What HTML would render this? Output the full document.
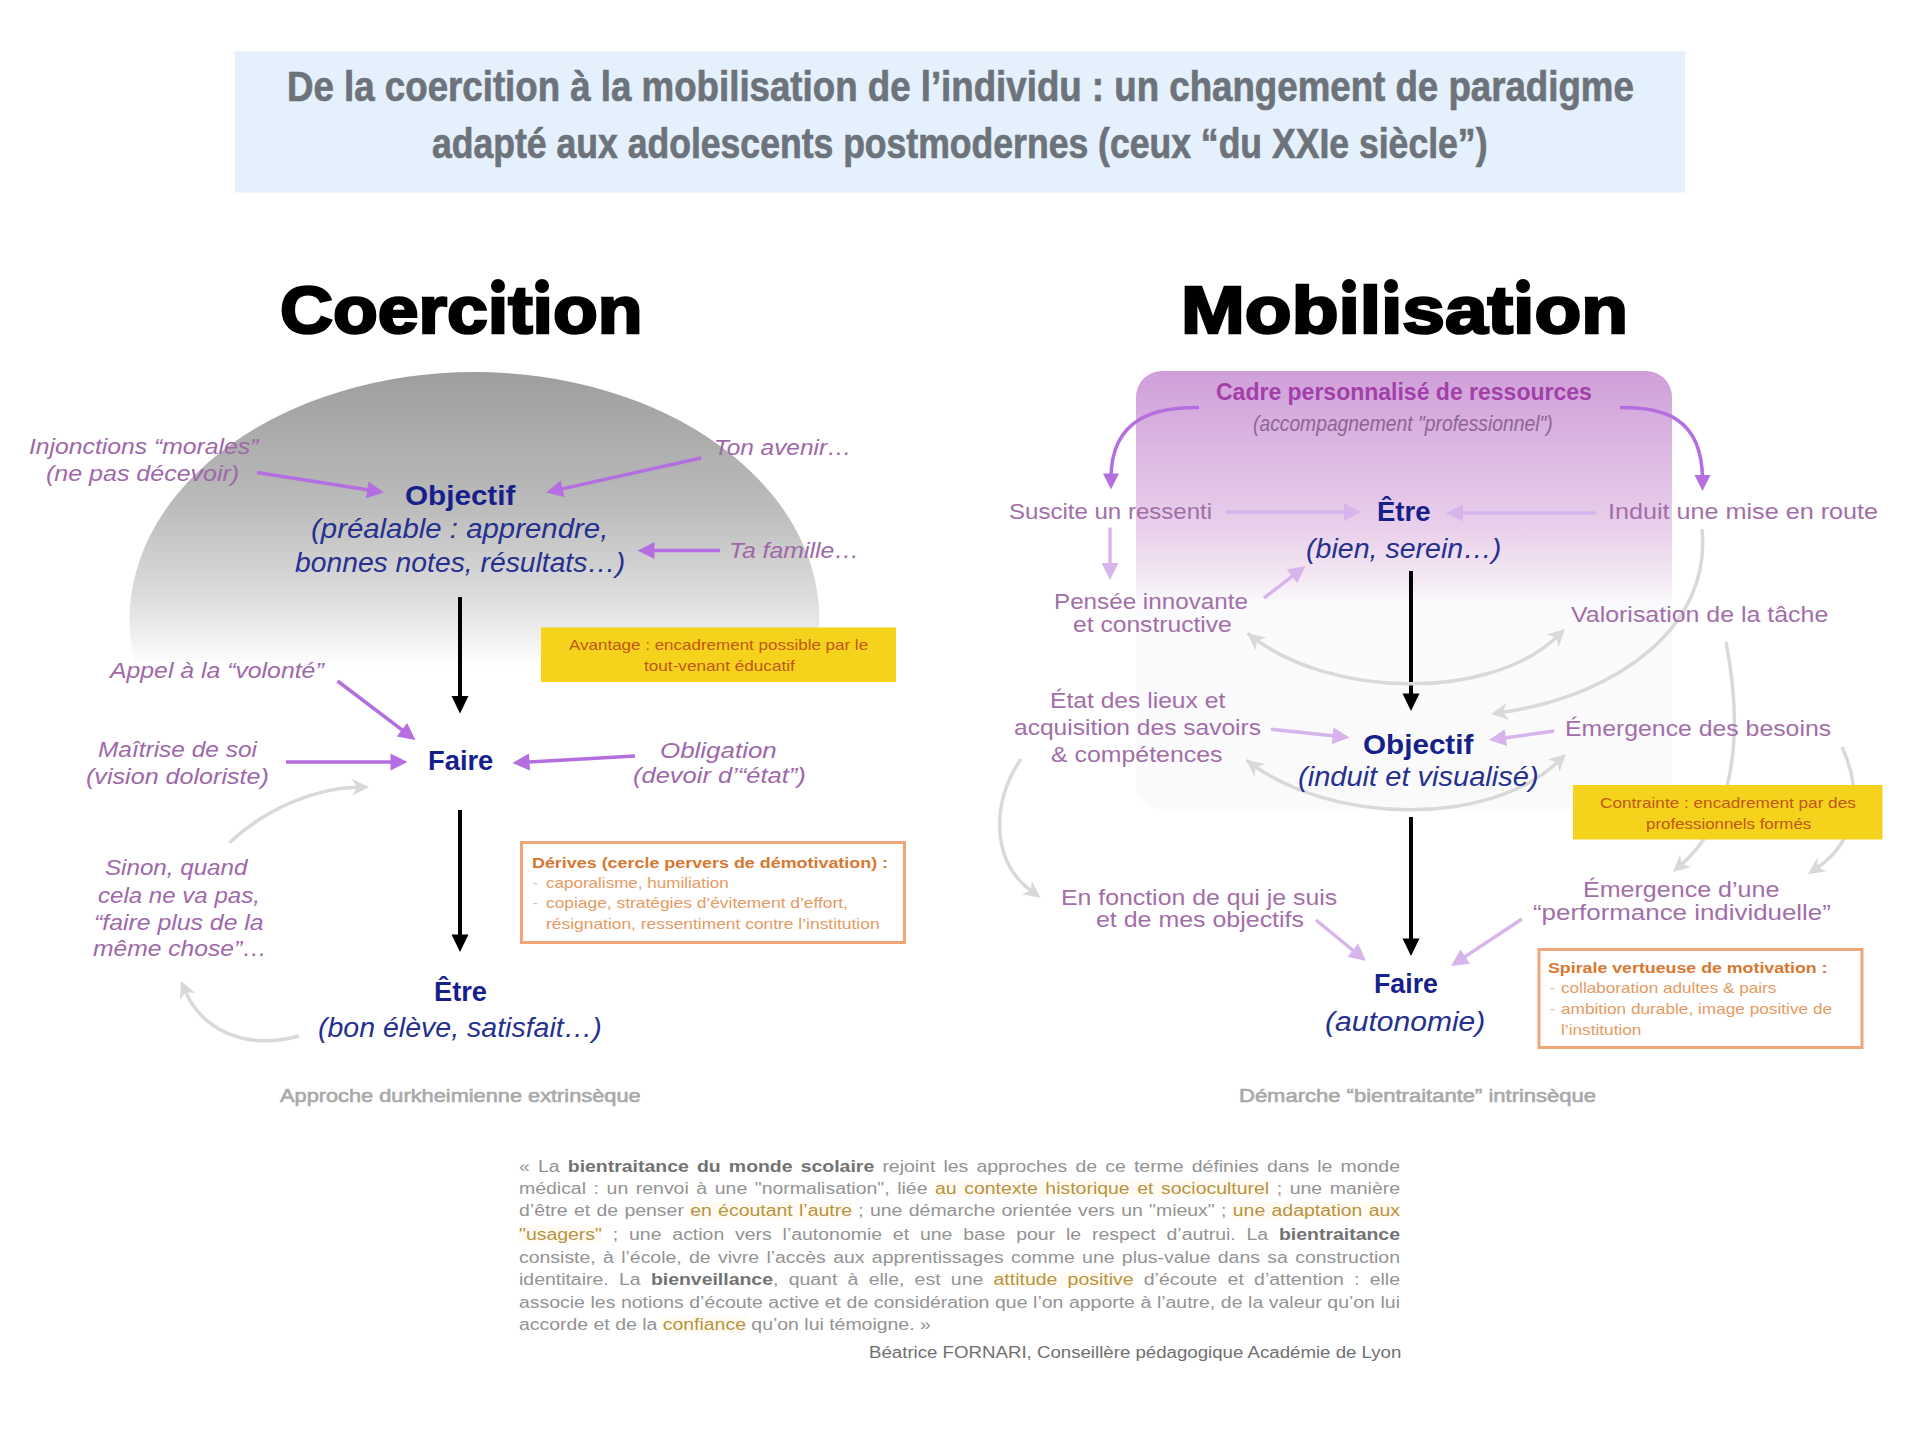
<!DOCTYPE html>
<html><head><meta charset="utf-8"><style>
html,body{margin:0;padding:0;background:#fff;}
body{width:1920px;height:1440px;position:relative;overflow:hidden;font-family:"Liberation Sans",sans-serif;}
.t{position:absolute;white-space:nowrap;transform-origin:0 0;}
svg.sh{position:absolute;left:0;top:0;}
.dot{position:absolute;background:#000;border-radius:50%;}
</style></head><body>
<svg class="sh" width="1920" height="1440"><defs>
<linearGradient id="gEll" x1="0" y1="372" x2="0" y2="668" gradientUnits="userSpaceOnUse">
 <stop offset="0" stop-color="#9e9e9e"/>
 <stop offset="0.45" stop-color="#bbbbbb"/>
 <stop offset="0.78" stop-color="#dfdfdf"/>
 <stop offset="1" stop-color="#ffffff"/>
</linearGradient>
<linearGradient id="gBox" x1="0" y1="371" x2="0" y2="809" gradientUnits="userSpaceOnUse">
 <stop offset="0" stop-color="#cf9fd9"/>
 <stop offset="0.18" stop-color="#dcb8e2"/>
 <stop offset="0.36" stop-color="#e9d0eb"/>
 <stop offset="0.48" stop-color="#f4eaf4"/>
 <stop offset="0.53" stop-color="#fbfafc"/>
 <stop offset="1" stop-color="#fafafb"/>
</linearGradient>
</defs>
<rect x="235.5" y="52" width="1449" height="140" fill="#e4f0fb" stroke="#e9eef6" stroke-width="1"/>
<ellipse cx="474.5" cy="620" rx="345" ry="248" fill="url(#gEll)"/>
<rect x="1136" y="371" width="536" height="438" rx="26" ry="26" fill="url(#gBox)"/>
<line x1="257" y1="472.5" x2="372.2" y2="490.6" stroke="#b46ee0" stroke-width="3.5"/>
<polygon points="384.0,492.5 365.9,498.3 368.5,481.5" fill="#b46ee0"/>
<line x1="701" y1="458" x2="557.6" y2="489.9" stroke="#b46ee0" stroke-width="3.5"/>
<polygon points="546.0,492.5 560.7,480.5 564.4,497.1" fill="#b46ee0"/>
<line x1="720" y1="550.5" x2="649.4" y2="550.5" stroke="#b46ee0" stroke-width="3.5"/>
<polygon points="637.5,550.5 654.5,542.0 654.5,559.0" fill="#b46ee0"/>
<line x1="337.5" y1="681" x2="406.0" y2="732.8" stroke="#b46ee0" stroke-width="3.5"/>
<polygon points="415.5,740.0 396.8,736.5 407.1,723.0" fill="#b46ee0"/>
<line x1="286" y1="762" x2="395.6" y2="762.0" stroke="#b46ee0" stroke-width="3.5"/>
<polygon points="407.5,762.0 390.5,770.5 390.5,753.5" fill="#b46ee0"/>
<line x1="635" y1="756" x2="524.4" y2="762.3" stroke="#b46ee0" stroke-width="3.5"/>
<polygon points="512.5,763.0 529.0,753.5 530.0,770.5" fill="#b46ee0"/>
<line x1="460" y1="597" x2="460.0" y2="701.2" stroke="#000" stroke-width="4"/>
<polygon points="460.0,713.5 451.5,696.0 468.5,696.0" fill="#000"/>
<line x1="460" y1="810" x2="460.0" y2="939.8" stroke="#000" stroke-width="4"/>
<polygon points="460.0,952.0 451.5,934.5 468.5,934.5" fill="#000"/>
<line x1="1411" y1="571" x2="1411.0" y2="698.8" stroke="#000" stroke-width="4"/>
<polygon points="1411.0,711.0 1402.5,693.5 1419.5,693.5" fill="#000"/>
<line x1="1411" y1="817" x2="1411.0" y2="943.8" stroke="#000" stroke-width="4"/>
<polygon points="1411.0,956.0 1402.5,938.5 1419.5,938.5" fill="#000"/>
<path d="M229.5,842.5 C270,805 320,788 357.1,787.2" fill="none" stroke="#d9d9d9" stroke-width="3.5"/>
<polygon points="369.0,787.0 352.2,795.8 357.1,787.2 351.8,778.8" fill="#d9d9d9"/>
<path d="M299,1036 C240,1052 200,1025 185.7,991.9" fill="none" stroke="#d9d9d9" stroke-width="3.5"/>
<polygon points="181.0,981.0 195.5,993.2 185.7,991.9 179.9,1000.0" fill="#d9d9d9"/>
<path d="M1199,407.5 C1160,407 1111,415 1111.0,478.3" fill="none" stroke="#b46ee0" stroke-width="3.5"/>
<polygon points="1111.0,489.5 1103.0,473.5 1119.0,473.5" fill="#b46ee0"/>
<path d="M1620,407.5 C1660,407 1702.5,415 1702.5,479.8" fill="none" stroke="#b46ee0" stroke-width="3.5"/>
<polygon points="1702.5,491.0 1694.5,475.0 1710.5,475.0" fill="#b46ee0"/>
<line x1="1226" y1="512" x2="1349.1" y2="512.0" stroke="#d7b4ec" stroke-width="3.5"/>
<polygon points="1361.0,512.0 1344.0,520.5 1344.0,503.5" fill="#d7b4ec"/>
<line x1="1596" y1="513" x2="1457.9" y2="513.0" stroke="#d7b4ec" stroke-width="3.5"/>
<polygon points="1446.0,513.0 1463.0,504.5 1463.0,521.5" fill="#d7b4ec"/>
<line x1="1110" y1="527.5" x2="1110.0" y2="568.1" stroke="#d7b4ec" stroke-width="3.5"/>
<polygon points="1110.0,580.0 1101.5,563.0 1118.5,563.0" fill="#d7b4ec"/>
<line x1="1264" y1="598" x2="1296.1" y2="573.3" stroke="#d7b4ec" stroke-width="3.5"/>
<polygon points="1305.5,566.0 1297.2,583.1 1286.8,569.6" fill="#d7b4ec"/>
<line x1="1271" y1="729.3" x2="1337.7" y2="736.3" stroke="#d7b4ec" stroke-width="3.5"/>
<polygon points="1349.5,737.6 1331.7,744.3 1333.5,727.4" fill="#d7b4ec"/>
<line x1="1554" y1="731" x2="1500.8" y2="738.4" stroke="#d7b4ec" stroke-width="3.5"/>
<polygon points="1489.0,740.0 1504.7,729.2 1507.0,746.1" fill="#d7b4ec"/>
<line x1="1316" y1="920" x2="1356.8" y2="953.5" stroke="#d7b4ec" stroke-width="3.5"/>
<polygon points="1366.0,961.0 1347.5,956.8 1358.2,943.6" fill="#d7b4ec"/>
<line x1="1522" y1="919" x2="1460.9" y2="959.4" stroke="#d7b4ec" stroke-width="3.5"/>
<polygon points="1451.0,966.0 1460.5,949.5 1469.9,963.7" fill="#d7b4ec"/>
<path d="M1247.6,633.4 C1330,700 1490,700 1556.4,637.2" fill="none" stroke="#d9d9d9" stroke-width="3.5"/>
<polygon points="1565.0,629.0 1558.5,646.9 1556.4,637.2 1546.8,634.5" fill="#d9d9d9"/>
<polygon points="1247.6,633.4 1266.2,637.5 1256.9,640.9 1255.5,650.7" fill="#d9d9d9"/>
<path d="M1246.4,760 C1330,826 1490,826 1557.4,762.2" fill="none" stroke="#d9d9d9" stroke-width="3.5"/>
<polygon points="1566.0,754.0 1559.5,771.9 1557.4,762.2 1547.8,759.5" fill="#d9d9d9"/>
<polygon points="1246.4,760.0 1265.0,763.9 1255.7,767.4 1254.5,777.2" fill="#d9d9d9"/>
<path d="M1702,529 C1712,625 1620,695 1502.8,712.3" fill="none" stroke="#d9d9d9" stroke-width="3.5"/>
<polygon points="1491.0,714.0 1506.6,703.1 1502.8,712.3 1509.1,719.9" fill="#d9d9d9"/>
<path d="M1021,759 C992,800 990,860 1030.9,890.6" fill="none" stroke="#d9d9d9" stroke-width="3.5"/>
<polygon points="1040.4,897.7 1021.7,894.3 1030.9,890.6 1031.9,880.7" fill="#d9d9d9"/>
<path d="M1726,642 C1745,740 1732,820 1681.9,864.1" fill="none" stroke="#d9d9d9" stroke-width="3.5"/>
<polygon points="1673.0,872.0 1680.1,854.4 1681.9,864.1 1691.4,867.1" fill="#d9d9d9"/>
<path d="M1842,747 C1862,790 1858,840 1817.8,867.3" fill="none" stroke="#d9d9d9" stroke-width="3.5"/>
<polygon points="1808.0,874.0 1817.3,857.4 1817.8,867.3 1826.8,871.5" fill="#d9d9d9"/>
<rect x="541" y="627.5" width="355" height="54.5" fill="#f5d21c"/>
<rect x="1573" y="785" width="309.5" height="54.5" fill="#f5d21c"/>
<rect x="521.5" y="842.5" width="383" height="100" fill="#fff" stroke="#f0a677" stroke-width="3"/>
<rect x="1539" y="949.5" width="323" height="98" fill="#fff" stroke="#f0a677" stroke-width="3"/></svg>
<div class="t" style='left:287.25px;top:63.98px;font:normal bold 42px "Liberation Sans";line-height:1.117;color:#6d737b;transform:scaleX(0.8731);-webkit-text-stroke:0.7px #6d737b;'>De la coercition à la mobilisation de l’individu : un changement de paradigme</div>
<div class="t" style='left:432.15px;top:121.48px;font:normal bold 42px "Liberation Sans";line-height:1.117;color:#6d737b;transform:scaleX(0.8468);-webkit-text-stroke:0.7px #6d737b;'>adapté aux adolescents postmodernes (ceux “du XXIe siècle”)</div>
<div class="t" style='left:279.81px;top:272.84px;font:normal bold 67px "Liberation Sans";line-height:1.117;color:#000;transform:scaleX(1.0941);-webkit-text-stroke:2.6px #000;'>Coercıtıon</div>
<div class="t" style='left:1181.42px;top:272.84px;font:normal bold 67px "Liberation Sans";line-height:1.117;color:#000;transform:scaleX(1.1439);-webkit-text-stroke:2.6px #000;'>Mobılısatıon</div>
<div class="t" style='left:29.00px;top:434.13px;font:italic normal 22.5px "Liberation Sans";line-height:1.117;color:#9e68a9;transform:scaleX(1.0982);'>Injonctions “morales”</div>
<div class="t" style='left:46.39px;top:461.13px;font:italic normal 22.5px "Liberation Sans";line-height:1.117;color:#9e68a9;transform:scaleX(1.1111);'>(ne pas décevoir)</div>
<div class="t" style='left:404.94px;top:480.15px;font:normal bold 28px "Liberation Sans";line-height:1.117;color:#15208a;transform:scaleX(1.0586);'>Objectif</div>
<div class="t" style='left:311.41px;top:513.56px;font:italic normal 27px "Liberation Sans";line-height:1.117;color:#26318f;transform:scaleX(1.0883);'>(préalable : apprendre,</div>
<div class="t" style='left:295.00px;top:547.56px;font:italic normal 27px "Liberation Sans";line-height:1.117;color:#26318f;transform:scaleX(1.0472);'>bonnes notes, résultats…)</div>
<div class="t" style='left:713.83px;top:435.13px;font:italic normal 22.5px "Liberation Sans";line-height:1.117;color:#9e68a9;transform:scaleX(1.0846);'>Ton avenir…</div>
<div class="t" style='left:728.79px;top:537.63px;font:italic normal 22.5px "Liberation Sans";line-height:1.117;color:#9e68a9;transform:scaleX(1.1026);'>Ta famille…</div>
<div class="t" style='left:109.70px;top:657.63px;font:italic normal 22.5px "Liberation Sans";line-height:1.117;color:#9e68a9;transform:scaleX(1.1020);'>Appel à la “volonté”</div>
<div class="t" style='left:97.50px;top:737.13px;font:italic normal 22.5px "Liberation Sans";line-height:1.117;color:#9e68a9;transform:scaleX(1.0862);'>Maîtrise de soi</div>
<div class="t" style='left:86.38px;top:764.13px;font:italic normal 22.5px "Liberation Sans";line-height:1.117;color:#9e68a9;transform:scaleX(1.1167);'>(vision doloriste)</div>
<div class="t" style='left:427.77px;top:745.15px;font:normal bold 28px "Liberation Sans";line-height:1.117;color:#15208a;transform:scaleX(0.9755);'>Faire</div>
<div class="t" style='left:659.85px;top:737.63px;font:italic normal 22.5px "Liberation Sans";line-height:1.117;color:#9e68a9;transform:scaleX(1.1523);'>Obligation</div>
<div class="t" style='left:632.87px;top:762.63px;font:italic normal 22.5px "Liberation Sans";line-height:1.117;color:#9e68a9;transform:scaleX(1.1321);'>(devoir d’“état”)</div>
<div class="t" style='left:105.00px;top:855.13px;font:italic normal 22.5px "Liberation Sans";line-height:1.117;color:#9e68a9;transform:scaleX(1.0738);'>Sinon, quand</div>
<div class="t" style='left:97.50px;top:882.63px;font:italic normal 22.5px "Liberation Sans";line-height:1.117;color:#9e68a9;transform:scaleX(1.0698);'>cela ne va pas,</div>
<div class="t" style='left:93.90px;top:909.83px;font:italic normal 22.5px "Liberation Sans";line-height:1.117;color:#9e68a9;transform:scaleX(1.1030);'>“faire plus de la</div>
<div class="t" style='left:93.00px;top:935.73px;font:italic normal 22.5px "Liberation Sans";line-height:1.117;color:#9e68a9;transform:scaleX(1.0947);'>même chose”…</div>
<div class="t" style='left:434.03px;top:976.15px;font:normal bold 28px "Liberation Sans";line-height:1.117;color:#15208a;transform:scaleX(0.9736);'>Être</div>
<div class="t" style='left:317.94px;top:1013.06px;font:italic normal 27px "Liberation Sans";line-height:1.117;color:#26318f;transform:scaleX(1.0562);'>(bon élève, satisfait…)</div>
<div class="t" style='left:280.00px;top:1085.90px;font:normal normal 18px "Liberation Sans";line-height:1.117;color:#a9a9a9;transform:scaleX(1.2094);-webkit-text-stroke:0.6px #a9a9a9;'>Approche durkheimienne extrinsèque</div>
<div class="t" style='left:569.00px;top:637.37px;font:normal normal 14.5px "Liberation Sans";line-height:1.117;color:#c05814;transform:scaleX(1.1717);'>Avantage : encadrement possible par le</div>
<div class="t" style='left:644.00px;top:657.87px;font:normal normal 14.5px "Liberation Sans";line-height:1.117;color:#c05814;transform:scaleX(1.1844);'>tout-venant éducatif</div>
<div class="t" style='left:532.00px;top:855.37px;font:normal bold 14.5px "Liberation Sans";line-height:1.117;color:#d8772e;transform:scaleX(1.2340);'>Dérives (cercle pervers de démotivation) :</div>
<div class="t" style='left:533.00px;top:875.37px;font:normal normal 14.5px "Liberation Sans";line-height:1.117;color:#e8b898;transform:scaleX(1.0000);'>-</div>
<div class="t" style='left:546.00px;top:875.37px;font:normal normal 14.5px "Liberation Sans";line-height:1.117;color:#e59a62;transform:scaleX(1.1744);'>caporalisme, humiliation</div>
<div class="t" style='left:533.00px;top:895.07px;font:normal normal 14.5px "Liberation Sans";line-height:1.117;color:#e8b898;transform:scaleX(1.0000);'>-</div>
<div class="t" style='left:546.00px;top:895.07px;font:normal normal 14.5px "Liberation Sans";line-height:1.117;color:#e59a62;transform:scaleX(1.1981);'>copiage, stratégies d’évitement d’effort,</div>
<div class="t" style='left:546.00px;top:915.77px;font:normal normal 14.5px "Liberation Sans";line-height:1.117;color:#e59a62;transform:scaleX(1.1997);'>résignation, ressentiment contre l’institution</div>
<div class="t" style='left:1216.00px;top:380.18px;font:normal bold 23px "Liberation Sans";line-height:1.117;color:#a23fa8;transform:scaleX(0.9999);'>Cadre personnalisé de ressources</div>
<div class="t" style='left:1253.12px;top:411.58px;font:italic normal 22px "Liberation Sans";line-height:1.117;color:#8e6494;transform:scaleX(0.8759);'>(accompagnement &quot;professionnel&quot;)</div>
<div class="t" style='left:1008.91px;top:499.58px;font:normal normal 22px "Liberation Sans";line-height:1.117;color:#a26ea8;transform:scaleX(1.0925);'>Suscite un ressenti</div>
<div class="t" style='left:1377.02px;top:495.65px;font:normal bold 28px "Liberation Sans";line-height:1.117;color:#15208a;transform:scaleX(0.9831);'>Être</div>
<div class="t" style='left:1607.71px;top:499.58px;font:normal normal 22px "Liberation Sans";line-height:1.117;color:#a26ea8;transform:scaleX(1.1441);'>Induit une mise en route</div>
<div class="t" style='left:1305.74px;top:534.06px;font:italic normal 27px "Liberation Sans";line-height:1.117;color:#26318f;transform:scaleX(1.0582);'>(bien, serein…)</div>
<div class="t" style='left:1053.90px;top:589.58px;font:normal normal 22px "Liberation Sans";line-height:1.117;color:#a26ea8;transform:scaleX(1.1006);'>Pensée innovante</div>
<div class="t" style='left:1072.50px;top:613.08px;font:normal normal 22px "Liberation Sans";line-height:1.117;color:#a26ea8;transform:scaleX(1.1193);'>et constructive</div>
<div class="t" style='left:1571.00px;top:602.58px;font:normal normal 22px "Liberation Sans";line-height:1.117;color:#a26ea8;transform:scaleX(1.1330);'>Valorisation de la tâche</div>
<div class="t" style='left:1049.88px;top:688.58px;font:normal normal 22px "Liberation Sans";line-height:1.117;color:#a26ea8;transform:scaleX(1.1195);'>État des lieux et</div>
<div class="t" style='left:1014.00px;top:716.08px;font:normal normal 22px "Liberation Sans";line-height:1.117;color:#a26ea8;transform:scaleX(1.1160);'>acquisition des savoirs</div>
<div class="t" style='left:1051.00px;top:742.58px;font:normal normal 22px "Liberation Sans";line-height:1.117;color:#a26ea8;transform:scaleX(1.1310);'>&amp; compétences</div>
<div class="t" style='left:1362.94px;top:729.15px;font:normal bold 28px "Liberation Sans";line-height:1.117;color:#15208a;transform:scaleX(1.0586);'>Objectif</div>
<div class="t" style='left:1297.92px;top:762.06px;font:italic normal 27px "Liberation Sans";line-height:1.117;color:#26318f;transform:scaleX(1.0763);'>(induit et visualisé)</div>
<div class="t" style='left:1564.87px;top:716.58px;font:normal normal 22px "Liberation Sans";line-height:1.117;color:#a26ea8;transform:scaleX(1.1275);'>Émergence des besoins</div>
<div class="t" style='left:1599.50px;top:795.37px;font:normal normal 14.5px "Liberation Sans";line-height:1.117;color:#c05814;transform:scaleX(1.1842);'>Contrainte : encadrement par des</div>
<div class="t" style='left:1646.00px;top:816.37px;font:normal normal 14.5px "Liberation Sans";line-height:1.117;color:#c05814;transform:scaleX(1.1653);'>professionnels formés</div>
<div class="t" style='left:1061.37px;top:886.08px;font:normal normal 22px "Liberation Sans";line-height:1.117;color:#a26ea8;transform:scaleX(1.1289);'>En fonction de qui je suis</div>
<div class="t" style='left:1096.00px;top:908.08px;font:normal normal 22px "Liberation Sans";line-height:1.117;color:#a26ea8;transform:scaleX(1.1340);'>et de mes objectifs</div>
<div class="t" style='left:1582.86px;top:878.08px;font:normal normal 22px "Liberation Sans";line-height:1.117;color:#a26ea8;transform:scaleX(1.1390);'>Émergence d’une</div>
<div class="t" style='left:1532.50px;top:900.58px;font:normal normal 22px "Liberation Sans";line-height:1.117;color:#a26ea8;transform:scaleX(1.1769);'>“performance individuelle”</div>
<div class="t" style='left:1374.04px;top:968.15px;font:normal bold 28px "Liberation Sans";line-height:1.117;color:#15208a;transform:scaleX(0.9564);'>Faire</div>
<div class="t" style='left:1325.49px;top:1006.66px;font:italic normal 27px "Liberation Sans";line-height:1.117;color:#26318f;transform:scaleX(1.1128);'>(autonomie)</div>
<div class="t" style='left:1547.50px;top:959.87px;font:normal bold 14.5px "Liberation Sans";line-height:1.117;color:#d8772e;transform:scaleX(1.2258);'>Spirale vertueuse de motivation :</div>
<div class="t" style='left:1550.00px;top:980.37px;font:normal normal 14.5px "Liberation Sans";line-height:1.117;color:#e8b898;transform:scaleX(1.0000);'>-</div>
<div class="t" style='left:1561.00px;top:980.37px;font:normal normal 14.5px "Liberation Sans";line-height:1.117;color:#e59a62;transform:scaleX(1.1819);'>collaboration adultes &amp; pairs</div>
<div class="t" style='left:1550.00px;top:1001.12px;font:normal normal 14.5px "Liberation Sans";line-height:1.117;color:#e8b898;transform:scaleX(1.0000);'>-</div>
<div class="t" style='left:1561.00px;top:1001.12px;font:normal normal 14.5px "Liberation Sans";line-height:1.117;color:#e59a62;transform:scaleX(1.1884);'>ambition durable, image positive de</div>
<div class="t" style='left:1561.00px;top:1022.07px;font:normal normal 14.5px "Liberation Sans";line-height:1.117;color:#e59a62;transform:scaleX(1.1884);'>l’institution</div>
<div class="t" style='left:1239.38px;top:1085.90px;font:normal normal 18px "Liberation Sans";line-height:1.117;color:#a9a9a9;transform:scaleX(1.2221);-webkit-text-stroke:0.6px #a9a9a9;'>Démarche “bientraitante” intrinsèque</div>
<style>.q{position:absolute;left:519px;white-space:nowrap;font:16.00px/1.117 "Liberation Sans";color:#939393;transform-origin:0 0;transform:scaleX(1.2150);width:725.10px;}.q b{color:#727272;font-weight:bold;}.q .g{color:#b8923e;background:#fffbf2;}.q .at{color:#6f6f6f;}.qj{text-align:justify;text-align-last:justify;}.qr{text-align:right;}</style>
<div class="q qj" style="top:1157.52px">« La <b>bientraitance du monde scolaire</b> rejoint les approches de ce terme définies dans le monde</div>
<div class="q qj" style="top:1179.52px">médical : un renvoi à une "normalisation", liée <span class="g">au contexte historique et socioculturel</span> ; une manière</div>
<div class="q qj" style="top:1201.82px">d’être et de penser <span class="g">en écoutant l’autre</span> ; une démarche orientée vers un "mieux" ; <span class="g">une adaptation aux</span></div>
<div class="q qj" style="top:1226.12px"><span class="g">"usagers"</span> ; une action vers l’autonomie et une base pour le respect d’autrui. La <b>bientraitance</b></div>
<div class="q qj" style="top:1248.62px">consiste, à l’école, de vivre l’accès aux apprentissages comme une plus-value dans sa construction</div>
<div class="q qj" style="top:1271.12px">identitaire. La <b>bienveillance</b>, quant à elle, est une <span class="g">attitude positive</span> d’écoute et d’attention : elle</div>
<div class="q qj" style="top:1293.62px">associe les notions d’écoute active et de considération que l’on apporte à l’autre, de la valeur qu’on lui</div>
<div class="q" style="top:1316.12px">accorde et de la <span class="g">confiance</span> qu’on lui témoigne. »</div>
<div class="q" style="top:1344.12px;left:869px;width:auto;transform:scaleX(1.166);color:#6f6f6f">Béatrice FORNARI, Conseillère pédagogique Académie de Lyon</div>
<div class="dot" style="left:490.5px;top:278.5px;width:14px;height:14px"></div>
<div class="dot" style="left:535px;top:278.5px;width:14px;height:14px"></div>
<div class="dot" style="left:1342px;top:278.5px;width:14px;height:14px"></div>
<div class="dot" style="left:1384px;top:278.5px;width:14px;height:14px"></div>
<div class="dot" style="left:1516px;top:278.5px;width:14px;height:14px"></div>
</body></html>
